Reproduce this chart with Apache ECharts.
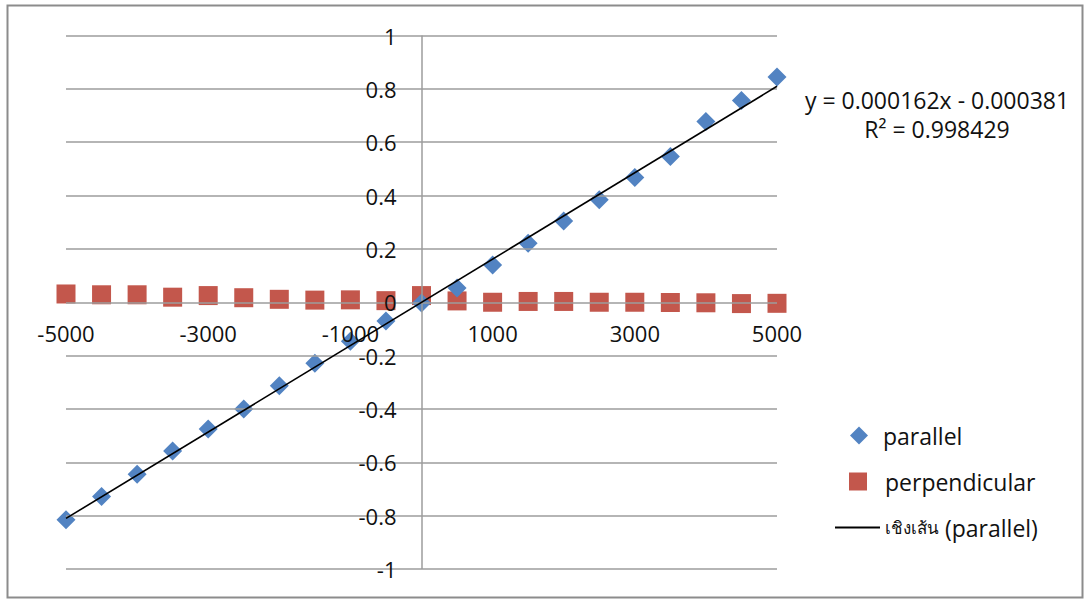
<!DOCTYPE html>
<html>
<head>
<meta charset="utf-8">
<script src="https://cdn.jsdelivr.net/npm/echarts@6/dist/echarts.min.js"></script>
<style>
  html, body { margin: 0; padding: 0; background: #ffffff; }
  #chart { width: 1085px; height: 599px; }
</style>
</head>
<body>
<div id="chart"></div>
<script>
// ---- data ----
const xValues = [-5000, -4500, -4000, -3500, -3000, -2500, -2000, -1500, -1000, -500,
                 0, 500, 1000, 1500, 2000, 2500, 3000, 3500, 4000, 4500, 5000];
const parallelValues = [-0.815, -0.728, -0.645, -0.558, -0.475, -0.400, -0.313, -0.229, -0.146, -0.070,
                        -0.003, 0.053, 0.140, 0.221, 0.305, 0.384, 0.468, 0.546, 0.678, 0.756, 0.844];
const perpendicularValues = [0.031, 0.028, 0.028, 0.019, 0.025, 0.017, 0.011, 0.008, 0.009, 0.006,
                             0.025, 0.005, 0.000, 0.003, 0.003, 0.000, 0.000, -0.001, -0.002, -0.005, -0.004];
// trendline end points (y = 0.000162x - 0.000381)
const trendX = [-5000, 5000];
const trendY = [-0.8104, 0.8096];
const seriesNames = ['parallel', 'perpendicular', 'เชิงเส้น (parallel)'];
const equationLines = ['y = 0.000162x - 0.000381', 'R² = 0.998429'];

const FONT = '"Open Sans", "Noto Sans", "DejaVu Sans", sans-serif';
const BLUE = '#5283C2';
const RED = '#C3574C';
const GRID = '#9c9c9c';

const pair = (xs, ys) => xs.map((x, i) => [x, ys[i]]);

const GRID_LEFT = 66, GRID_RIGHT = 308, GRID_TOP = 35.5, GRID_BOTTOM = 30;
const plotW = 1085 - GRID_LEFT - GRID_RIGHT;
const plotH = 599 - GRID_TOP - GRID_BOTTOM;

const chart = echarts.init(document.getElementById('chart'), null, { renderer: 'svg' });
chart.setOption({
  backgroundColor: '#ffffff',
  animation: false,
  grid: { left: GRID_LEFT, right: GRID_RIGHT, top: GRID_TOP, bottom: GRID_BOTTOM, containLabel: false },
  xAxis: {
    type: 'value', min: -5000, max: 5000, interval: 2000, z: 5,
    position: 'bottom',
    axisLine: { show: false, onZero: false },
    axisTick: { show: false },
    splitLine: { show: false },
    axisLabel: { color: '#111', fontFamily: FONT, fontSize: 22, margin: 20 - plotH / 2, formatter: v => String(v) }
  },
  yAxis: {
    type: 'value', min: -1, max: 1, interval: 0.2, z: 5,
    position: 'left',
    axisLine: { show: false, onZero: false },
    axisTick: { show: false },
    splitLine: { show: true, lineStyle: { color: GRID, width: 1.5 } },
    axisLabel: { color: '#111', fontFamily: FONT, fontSize: 22, margin: 25 - plotW / 2, formatter: v => String(Math.round(v * 10) / 10) }
  },
  legend: [
    {
      data: [seriesNames[0]], orient: 'vertical', left: 845, top: 419,
      icon: 'diamond', itemWidth: 18, itemHeight: 18,
      textStyle: { color: '#111', fontFamily: FONT, fontSize: 23, padding: [0, 0, 0, 10] }
    },
    {
      data: [seriesNames[1]], orient: 'vertical', left: 844, top: 465,
      icon: 'rect', itemWidth: 18, itemHeight: 18,
      textStyle: { color: '#111', fontFamily: FONT, fontSize: 23, padding: [0, 0, 0, 13] }
    },
    {
      data: [seriesNames[2]], orient: 'vertical', left: 830, top: 511,
      icon: 'rect', itemWidth: 45, itemHeight: 2,
      itemStyle: { color: '#000' },
      formatter: function () { return '{th|เชิงเส้น} {en|(parallel)}'; },
      textStyle: {
        color: '#111', fontFamily: FONT, fontSize: 23,
        rich: {
          th: { fontSize: 17, fontFamily: FONT, color: '#111' },
          en: { fontSize: 23, fontFamily: FONT, color: '#111' }
        }
      }
    }
  ],
  series: [
    {
      name: 'axis-x0', type: 'line', data: [], z: 1, silent: true,
      markLine: {
        silent: true, symbol: 'none', label: { show: false },
        lineStyle: { color: GRID, width: 1.5, type: 'solid' },
        data: [{ xAxis: 0 }]
      }
    },
    {
      name: seriesNames[1], type: 'scatter', data: pair(xValues, perpendicularValues),
      symbol: 'rect', symbolSize: 19, itemStyle: { color: RED, opacity: 1 }, z: 3
    },
    {
      name: seriesNames[0], type: 'scatter', data: pair(xValues, parallelValues),
      symbol: 'diamond', symbolSize: 19, itemStyle: { color: BLUE, opacity: 1 }, z: 3
    },
    {
      name: seriesNames[2], type: 'line', data: pair(trendX, trendY),
      symbol: 'none', lineStyle: { color: '#000', width: 1.6 }, itemStyle: { color: '#000' }, z: 6
    }
  ],
  graphic: [
    {
      type: 'rect', left: 5, top: 3, silent: true,
      shape: { width: 1075, height: 592 },
      style: { fill: 'none', stroke: '#8c8c8c', lineWidth: 2 }
    },
    {
      type: 'text', x: 937, y: 100,
      style: { text: equationLines[0], fontFamily: FONT, fontSize: 23, fill: '#111', align: 'center', verticalAlign: 'middle' }
    },
    {
      type: 'text', x: 937, y: 129,
      style: { text: equationLines[1], fontFamily: FONT, fontSize: 23, fill: '#111', align: 'center', verticalAlign: 'middle' }
    }
  ]
});
</script>
</body>
</html>
